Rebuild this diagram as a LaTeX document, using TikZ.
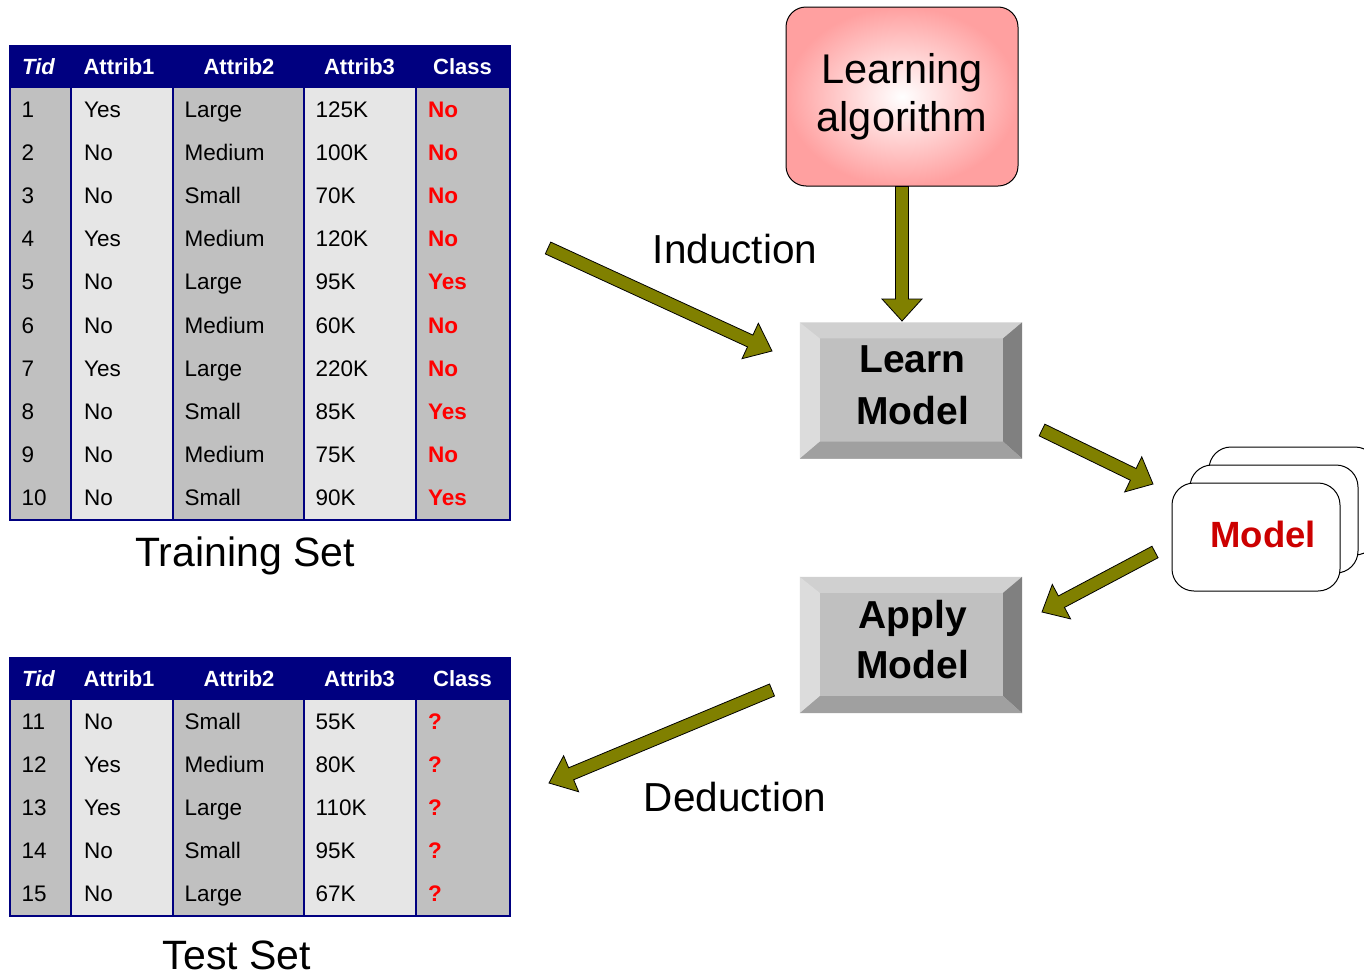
\documentclass[tikz,border=0pt]{standalone}
\usepackage{fontspec}
\setmainfont{Liberation Sans}
\usetikzlibrary{calc}
\definecolor{navy}{HTML}{000080}
\definecolor{olivef}{HTML}{808000}
\definecolor{cgray}{HTML}{C0C0C0}
\definecolor{clight}{HTML}{E6E6E6}
\definecolor{cred}{HTML}{FF0000}
\definecolor{mred}{HTML}{CC0000}
\definecolor{pinkout}{HTML}{FFA0A0}
\definecolor{bevtop}{HTML}{D0D0D0}
\definecolor{bevleft}{HTML}{DCDCDC}
\definecolor{bevright}{HTML}{808080}
\definecolor{bevbot}{HTML}{A0A0A0}

\newcommand\fsz[1]{\fontsize{#1}{#1}\selectfont}

\tikzset{
  barrow/.style={fill=olivef, draw=black, line width=0.8pt, line join=miter},
  cell/.style={anchor=base west, inner sep=0pt, font=\fsz{22.5}},
  clscell/.style={cell, text=cred, font=\fsz{22.5}\bfseries},
  hdr/.style={anchor=base, inner sep=0pt, text=white, font=\fsz{22}\bfseries},
  navyline/.style={draw=navy, line width=2pt},
  bevelbox/.style={fill=cgray, minimum width=222pt, minimum height=136pt, inner sep=0pt},
  bevtext/.style={align=center, inner sep=0pt, font=\fsz{39}\bfseries},
  modelcard/.style={draw=black, line width=1pt, fill=white, rounded corners=22pt, minimum width=168pt, minimum height=108pt, inner sep=0pt},
  biglabel/.style={inner sep=0pt, font=\fsz{41}},
}

% block arrow: #1 start, #2 tip, #3 shaft half width, #4 head half width, #5 head length
\newcommand\blockarrow[5]{%
  \path ($(#2)!#5!(#1)$) coordinate (#2-hb);
  \filldraw[barrow] ($(#1)!#3!90:(#2)$) -- ($(#2-hb)!#3!-90:(#1)$) -- ($(#2-hb)!#4!-90:(#1)$) -- (#2)
     -- ($(#2-hb)!#4!90:(#1)$) -- ($(#2-hb)!#3!90:(#1)$) -- ($(#1)!#3!-90:(#2)$) -- cycle;
}

% bevel decoration around node #1
\newcommand\bevel[1]{%
  \fill[bevtop] (#1.north west) -- (#1.north east) -- ($(#1.north east)+(-19,16)$) -- ($(#1.north west)+(20,16)$) -- cycle;
  \fill[bevleft] (#1.north west) -- ($(#1.north west)+(20,16)$) -- ($(#1.south west)+(20,-17)$) -- (#1.south west) -- cycle;
  \fill[bevright] (#1.north east) -- ($(#1.north east)+(-19,16)$) -- ($(#1.south east)+(-19,-17)$) -- (#1.south east) -- cycle;
  \fill[bevbot] (#1.south west) -- ($(#1.south west)+(20,-17)$) -- ($(#1.south east)+(-19,-17)$) -- (#1.south east) -- cycle;
}

% table: #1 prefix, #2 top y, #3 number of rows, #4 rows
\newcommand\drawtable[4]{%
  \pgfmathsetmacro\hb{#2+43}
  \pgfmathsetmacro\tb{#2+43+43.2*#3}
  \fill[cgray] (10,\hb) rectangle (71,\tb);
  \fill[clight] (71,\hb) rectangle (173,\tb);
  \fill[cgray] (173,\hb) rectangle (304,\tb);
  \fill[clight] (304,\hb) rectangle (416,\tb);
  \fill[cgray] (416,\hb) rectangle (510,\tb);
  \fill[navy] (9,#2) rectangle (511,\hb);
  \foreach \x in {71,173,304,416} \draw[navyline] (\x,\hb) -- (\x,\tb);
  \draw[navyline] (10,\hb) -- (10,\tb) -- (510,\tb) -- (510,\hb);
  \node[hdr, font=\fsz{22}\bfseries\itshape] (#1-h1) at (38.5,#2+29.5) {Tid};
  \node[hdr] (#1-h2) at (119,#2+29.5) {Attrib1};
  \node[hdr] (#1-h3) at (239,#2+29.5) {Attrib2};
  \node[hdr] (#1-h4) at (359.5,#2+29.5) {Attrib3};
  \node[hdr] (#1-h5) at (462.5,#2+29.5) {Class};
  \foreach [count=\i] \a/\b/\c/\d/\e in {#4} {
    \pgfmathsetmacro\yy{#2+72+43.2*(\i-1)}
    \node[cell] (#1-\i-1) at (21.5,\yy) {\a};
    \node[cell] (#1-\i-2) at (84,\yy) {\b};
    \node[cell] (#1-\i-3) at (184.5,\yy) {\c};
    \node[cell] (#1-\i-4) at (315.5,\yy) {\d};
    \node[clscell] (#1-\i-5) at (428,\yy) {\e};
  }
}

\begin{document}
\begin{tikzpicture}[x=1pt, y=-1pt]
\clip (0,0) rectangle (1364,977);
\fill[white] (0,0) rectangle (1364,977);

% training table
\drawtable{tr}{45}{10}{1/Yes/Large/125K/No, 2/No/Medium/100K/No, 3/No/Small/70K/No, 4/Yes/Medium/120K/No, 5/No/Large/95K/Yes, 6/No/Medium/60K/No, 7/Yes/Large/220K/No, 8/No/Small/85K/Yes, 9/No/Medium/75K/No, 10/No/Small/90K/Yes}
\node[biglabel] (trainlbl) at (245,556) {Training Set};

% test table
\drawtable{te}{657}{5}{11/No/Small/55K/?, 12/Yes/Medium/80K/?, 13/Yes/Large/110K/?, 14/No/Small/95K/?, 15/No/Large/67K/?}
\node[biglabel] (testlbl) at (237,955) {Test Set};

% learning algorithm
\node[draw=black, line width=1pt, rounded corners=20pt, inner color=white, outer color=pinkout,
      minimum width=232pt, minimum height=179pt, inner sep=0pt] (alg) at (902,96.5) {};
\node[align=center, inner sep=0pt, font=\fontsize{41.5}{48}\selectfont] (algtext) at (902,97) {Learning\\algorithm};

% learn model
\node[bevelbox] (lm) at (911,390.5) {};
\bevel{lm}
\node[bevtext, font=\fontsize{39}{52}\selectfont\bfseries] (lmtext) at (912.5,385) {Learn\\Model};

% apply model
\node[bevelbox] (am) at (911,645) {};
\bevel{am}
\node[bevtext, font=\fontsize{39}{50}\selectfont\bfseries] (amtext) at (912.5,640) {Apply\\Model};

% model stack
\node[modelcard] (m3) at (1293,501) {};
\node[modelcard] (m2) at (1274,519) {};
\node[modelcard] (m1) at (1256,537) {};
\node[inner sep=0pt, text=mred, font=\fsz{36.5}\bfseries] (mtext) at (1263,534) {Model};

% labels
\node[biglabel, font=\fsz{40.5}] (ind) at (735,249) {Induction};
\node[biglabel, font=\fsz{40.5}] (ded) at (735,797) {Deduction};

% arrows
\coordinate (a1s) at (548,248);
\coordinate (a1t) at (772,351);
\blockarrow{a1s}{a1t}{6.5pt}{19.5pt}{24pt}
\coordinate (a2s) at (alg.south);
\coordinate (a2t) at (902,321);
\blockarrow{a2s}{a2t}{6.5pt}{20pt}{22pt}
\coordinate (a3s) at (1042,430);
\coordinate (a3t) at (1153,484);
\blockarrow{a3s}{a3t}{6.5pt}{19.5pt}{22pt}
\coordinate (a4s) at (1155,552);
\coordinate (a4t) at (1042,612);
\blockarrow{a4s}{a4t}{6.5pt}{19.5pt}{22pt}
\coordinate (a5s) at (772,690);
\coordinate (a5t) at (549,783);
\blockarrow{a5s}{a5t}{6.5pt}{19.5pt}{24pt}
\end{tikzpicture}
\end{document}
